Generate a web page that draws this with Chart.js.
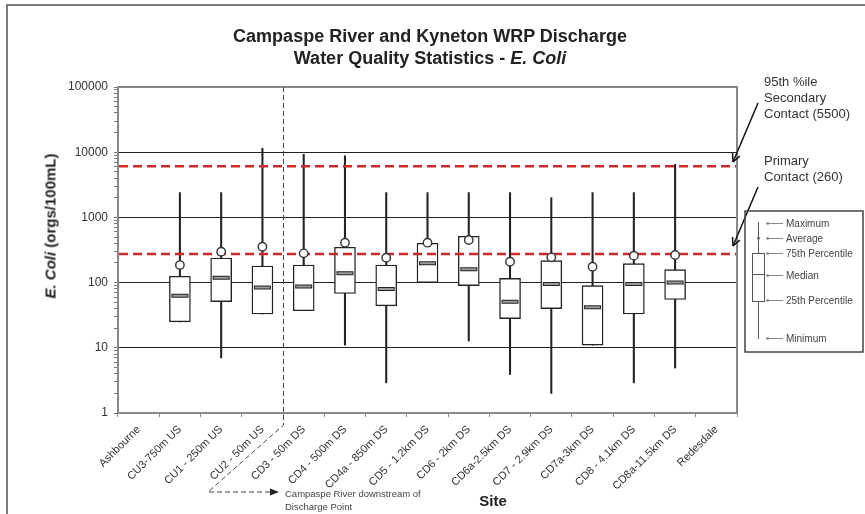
<!DOCTYPE html>
<html>
<head>
<meta charset="utf-8">
<script src="https://cdn.jsdelivr.net/npm/chart.js@4"></script>
<style>
  body { margin: 0; background: #fff; font-family: 'Liberation Sans', Arial, sans-serif; }
  #wrap { position: relative; width: 865px; height: 514px; overflow: hidden; }
  #frame { position: absolute; left: 6px; top: 4px; width: 880px; height: 540px; border-top: 2px solid #7a7a7a; border-left: 2px solid #7a7a7a; }
  canvas { position: absolute; left: 0; top: 0; }
  .t { position: absolute; white-space: nowrap; color: #222; }
  .title { left: 0; width: 860px; text-align: center; font-size: 18px; font-weight: bold; line-height: 22px; top: 25px; }
  .ytitle { left: 50px; top: 226px; font-size: 15px; font-weight: bold; transform: translate(-50%, -50%) rotate(-90deg); }
  .site { left: 493px; top: 500px; font-size: 15px; font-weight: bold; transform: translate(-50%, -50%); }
  .note { font-size: 13px; line-height: 16px; color: #333; left: 764px; }
  .key { font-size: 10px; color: #444; left: 786px; transform: translateY(-50%); }
  .dn { font-size: 9.5px; color: #444; left: 285px; line-height: 13px; top: 487px; }
</style>
</head>
<body>
<div id="wrap">
  <div id="frame"></div>
  <canvas id="chart" width="865" height="514"></canvas>
  <div class="t title">Campaspe River and Kyneton WRP Discharge<br>Water Quality Statistics - <i>E. Coli</i></div>
  <div class="t ytitle"><i>E. Coli</i> (orgs/100mL)</div>
  <div class="t site">Site</div>
  <div class="t note" style="top:74px">95th %ile<br>Secondary<br>Contact (5500)</div>
  <div class="t note" style="top:153px">Primary<br>Contact (260)</div>
  <div class="t key" style="top:223px">Maximum</div>
  <div class="t key" style="top:238px">Average</div>
  <div class="t key" style="top:253px">75th Percentile</div>
  <div class="t key" style="top:275px">Median</div>
  <div class="t key" style="top:300px">25th Percentile</div>
  <div class="t key" style="top:338px">Minimum</div>
  <div class="t dn">Campaspe River downstream of<br>Discharge Point</div>
</div>
<script>
const sites = ['Ashbourne', 'CU3-750m US', 'CU1 - 250m US', 'CU2 - 50m US', 'CD3 - 50m DS',
  'CD4 - 500m DS', 'CD4a - 850m DS', 'CD5 - 1.2km DS', 'CD6 - 2km DS', 'CD6a-2.5km DS',
  'CD7 - 2.9km DS', 'CD7a-3km DS', 'CD8 - 4.1km DS', 'CD8a-11.5km DS', 'Redesdale'];

// E. coli statistics per site (orgs/100mL)
const minimum = [null, 25, 7, 33, 37, 11, 2.9, 100, 12.7, 3.9, 2.0, 11, 2.9, 4.9, null];
const pct25 = [null, 25, 51, 33, 37, 68, 44, 100, 90, 28, 40, 11, 33, 55, null];
const median = [null, 63, 119, 84, 87, 139, 80, 198, 160, 51, 95, 42, 95, 100, null];
const pct75 = [null, 125, 238, 180, 186, 348, 186, 401, 513, 116, 217, 90, 195, 158, null];
const maximum = [null, 2400, 2400, 11500, 9300, 8800, 2400, 2400, 2400, 2400, 2000, 2400, 2400, 6500, null];
const average = [null, 186, 298, 355, 281, 409, 241, 409, 450, 209, 244, 175, 259, 265, null];

// guideline lines as drawn on the chart
const guidelines = [6100, 275];
const yDecades = [1, 10, 100, 1000, 10000, 100000];
const dividerAfter = 3; // dashed line between CU2 and CD3

Chart.defaults.font.family = "'Liberation Sans', Arial, sans-serif";

const isDecade = (v) => Math.abs(Math.log10(v) - Math.round(Math.log10(v))) < 1e-9;

function arrow(ctx, x1, y1, x2, y2, size) {
  const a = Math.atan2(y2 - y1, x2 - x1);
  ctx.beginPath();
  ctx.moveTo(x2, y2);
  ctx.lineTo(x2 - size * Math.cos(a - 0.45), y2 - size * Math.sin(a - 0.45));
  ctx.moveTo(x2, y2);
  ctx.lineTo(x2 - size * Math.cos(a + 0.45), y2 - size * Math.sin(a + 0.45));
  ctx.stroke();
}

const overlay = {
  id: 'overlay',
  afterDatasetDraw(chart, args) {
    if (chart.data.datasets[args.index].label !== 'Box') return;
    const { ctx, chartArea, scales } = chart;
    ctx.save();
    ctx.strokeStyle = '#cc2a2a';
    ctx.lineWidth = 2.5;
    ctx.setLineDash([9, 5]);
    guidelines.forEach((g) => {
      const y = scales.y.getPixelForValue(g);
      ctx.beginPath();
      ctx.moveTo(chartArea.left + 1, y);
      ctx.lineTo(chartArea.right, y);
      ctx.stroke();
    });
    ctx.restore();
  },
  afterDraw(chart) {
    const { ctx, chartArea, scales } = chart;
    ctx.save();
    // top and right plot border
    ctx.strokeStyle = '#888';
    ctx.lineWidth = 2;
    ctx.beginPath();
    ctx.moveTo(chartArea.left, chartArea.top);
    ctx.lineTo(chartArea.right, chartArea.top);
    ctx.lineTo(chartArea.right, chartArea.bottom);
    ctx.stroke();

    // dashed divider and downstream pointer
    const xd = Math.round((scales.x.getPixelForValue(dividerAfter) + scales.x.getPixelForValue(dividerAfter + 1)) / 2) + 0.5;
    ctx.strokeStyle = '#444';
    ctx.lineWidth = 1;
    ctx.setLineDash([5, 3]);
    ctx.beginPath();
    ctx.moveTo(xd, chartArea.top);
    ctx.lineTo(xd, 425);
    ctx.lineTo(208, 492);
    ctx.lineTo(272, 492);
    ctx.stroke();
    ctx.setLineDash([]);
    ctx.fillStyle = '#222';
    ctx.beginPath();
    ctx.moveTo(279, 492);
    ctx.lineTo(270, 488.5);
    ctx.lineTo(270, 495.5);
    ctx.closePath();
    ctx.fill();

    // arrows to guideline labels
    ctx.strokeStyle = '#111';
    ctx.lineWidth = 1.5;
    [[758, 103, 733, 162], [758, 187, 733, 246]].forEach(([a, b, c, d]) => {
      ctx.beginPath();
      ctx.moveTo(a, b);
      ctx.lineTo(c, d);
      ctx.stroke();
      arrow(ctx, a, b, c, d, 9);
    });

    // key box
    ctx.strokeStyle = '#444';
    ctx.lineWidth = 1.5;
    ctx.strokeRect(745, 211, 118, 141);
    ctx.strokeStyle = '#555';
    ctx.lineWidth = 1;
    ctx.beginPath();
    ctx.moveTo(758.5, 222);
    ctx.lineTo(758.5, 339);
    ctx.stroke();
    ctx.fillStyle = '#fff';
    ctx.fillRect(752.5, 253.5, 12, 48);
    ctx.strokeRect(752.5, 253.5, 12, 48);
    ctx.beginPath();
    ctx.moveTo(753, 274.5);
    ctx.lineTo(764, 274.5);
    ctx.stroke();
    arrow(ctx, 758.5, 232, 758.5, 240, 3);
    ctx.strokeStyle = '#888';
    [223, 238, 253, 275, 300, 338].forEach((y) => {
      ctx.beginPath();
      ctx.moveTo(783, y + 0.5);
      ctx.lineTo(766, y + 0.5);
      ctx.stroke();
      arrow(ctx, 783, y + 0.5, 766, y + 0.5, 3);
    });
    ctx.restore();
  },
};

const rangeOf = (lo, hi) => lo.map((v, i) => (v == null ? null : [v, hi[i]]));

new Chart(document.getElementById('chart'), {
  type: 'bar',
  data: {
    labels: sites,
    datasets: [
      {
        label: 'Whisker',
        data: rangeOf(minimum, maximum),
        backgroundColor: '#222',
        barThickness: 1.4,
        grouped: false,
        order: 5,
      },
      {
        label: 'Box',
        data: rangeOf(pct25, pct75),
        backgroundColor: '#fff',
        borderColor: '#222',
        borderWidth: 1.4,
        borderSkipped: false,
        barThickness: 21,
        grouped: false,
        order: 4,
      },
      {
        label: 'Median',
        type: 'line',
        data: median,
        showLine: false,
        pointStyle: 'line',
        pointRadius: 8.5,
        pointBorderWidth: 4,
        pointBorderColor: '#222',
        order: 3,
      },
      {
        label: 'MedianFill',
        type: 'line',
        data: median,
        showLine: false,
        pointStyle: 'line',
        pointRadius: 7.5,
        pointBorderWidth: 2,
        pointBorderColor: '#9a9a9a',
        order: 2,
      },
      {
        label: 'Average',
        type: 'line',
        data: average,
        showLine: false,
        pointStyle: 'circle',
        pointRadius: 4.2,
        pointBorderWidth: 1.4,
        pointBorderColor: '#333',
        pointBackgroundColor: '#fff',
        order: 1,
      },
    ],
  },
  options: {
    responsive: false,
    animation: false,
    events: [],
    layout: { padding: { left: 0, right: 128, top: 87, bottom: 0 } },
    plugins: {
      legend: { display: false },
      tooltip: { enabled: false },
      title: { display: false },
    },
    scales: {
      x: {
        type: 'category',
        offset: true,
        afterFit: (scale) => { scale.height = 101; },
        grid: { offset: true, drawOnChartArea: false, color: '#888', tickLength: 4 },
        border: { display: true, color: '#888', width: 2 },
        ticks: {
          autoSkip: false,
          maxRotation: 45,
          minRotation: 45,
          padding: 6,
          color: '#333',
          font: { size: 11 },
        },
      },
      y: {
        type: 'logarithmic',
        min: yDecades[0],
        max: yDecades[yDecades.length - 1],
        afterFit: (scale) => { scale.width = 118; },
        afterBuildTicks: (scale) => {
          scale.ticks = scale.ticks.filter((t) => {
            const p = Math.pow(10, Math.floor(Math.log10(t.value)));
            return Math.abs(t.value / p - 1.5) > 1e-6;
          });
        },
        grid: {
          color: (c) => {
            const v = c.tick && c.tick.value;
            if (!v || !isDecade(v)) return 'rgba(0,0,0,0)';
            if (v === yDecades[0] || v === yDecades[yDecades.length - 1]) return '#888';
            return '#222';
          },
          tickColor: '#777',
          tickLength: 4,
          lineWidth: 1,
        },
        border: { display: true, color: '#888', width: 2 },
        ticks: {
          autoSkip: false,
          padding: 6,
          color: '#333',
          font: { size: 12 },
          callback: (v) => (yDecades.includes(v) ? String(v) : ''),
        },
      },
    },
  },
  plugins: [overlay],
});
</script>
</body>
</html>
